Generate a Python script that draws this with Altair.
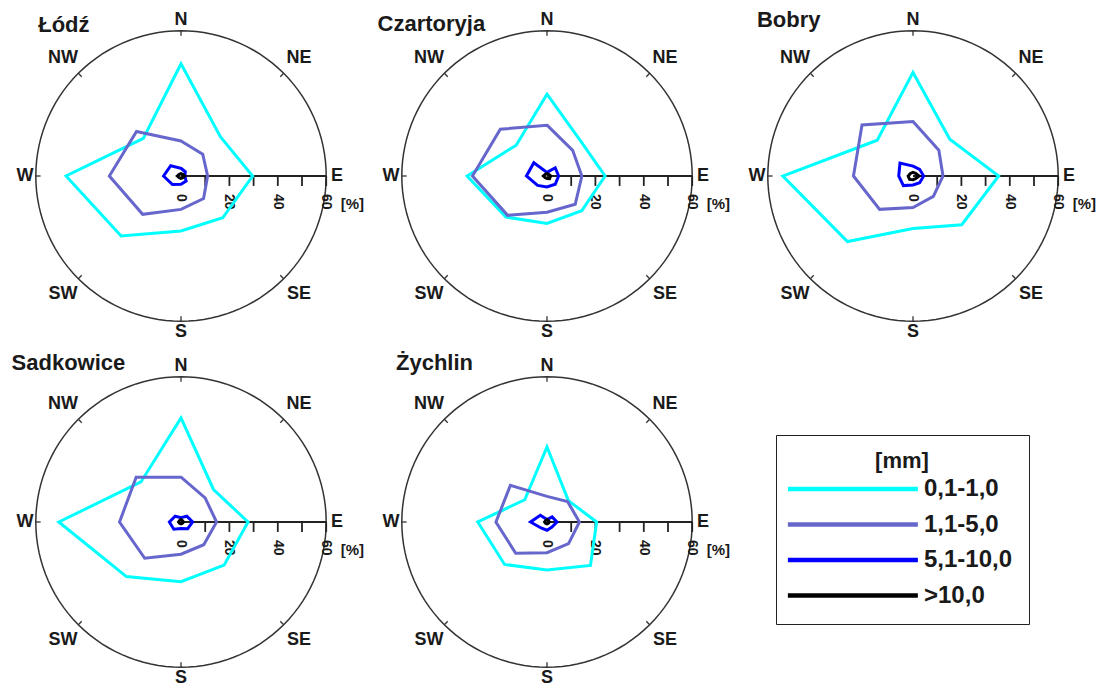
import altair as alt
import pandas as pd

# ---------------- data ----------------
directions = ["N", "NE", "E", "SE", "S", "SW", "W", "NW"]
bearings = [0, 45, 90, 135, 180, 225, 270, 315]
classes = ["0,1-1,0", "1,1-5,0", "5,1-10,0", ">10,0"]
class_colors = ["#00FFFF", "#6666CC", "#0000FF", "#000000"]
stations = ["Łódź", "Czartoryja", "Bobry", "Sadkowice", "Żychlin"]

# values [%] in order N, NE, E, SE, S, SW, W, NW
lodz_01_10 = [46.4, 23.0, 29.6, 24.4, 22.7, 35.0, 47.5, 22.0]
lodz_11_50 = [14.5, 12.7, 11.0, 13.2, 13.8, 22.4, 29.6, 26.0]
lodz_51_100 = [3.2, 2.5, 1.6, 3.0, 3.4, 5.0, 7.2, 6.0]
lodz_gt10 = [1.0, 1.0, 1.5, 1.0, 1.0, 1.0, 1.5, 1.0]

czart_01_10 = [33.8, 20.0, 24.0, 20.3, 19.6, 24.0, 33.0, 18.0]
czart_11_50 = [21.0, 15.0, 14.4, 16.5, 15.0, 23.0, 30.8, 27.3]
czart_51_100 = [1.5, 4.8, 4.8, 4.8, 4.5, 5.5, 8.5, 7.7]
czart_gt10 = [1.0, 1.0, 1.5, 1.5, 1.0, 1.0, 1.5, 1.0]

bobry_01_10 = [42.8, 21.5, 35.4, 28.5, 21.7, 38.3, 53.8, 20.9]
bobry_11_50 = [22.5, 15.1, 12.4, 11.9, 13.0, 19.5, 24.6, 29.8]
bobry_51_100 = [4.1, 3.9, 4.4, 3.9, 3.7, 5.6, 5.9, 7.6]
bobry_gt10 = [1.5, 1.5, 2.5, 1.5, 1.5, 2.0, 2.0, 1.5]

sadk_01_10 = [43.0, 19.0, 27.7, 25.2, 24.7, 31.9, 50.5, 23.4]
sadk_11_50 = [18.5, 14.1, 14.7, 13.3, 13.3, 21.2, 25.4, 26.2]
sadk_51_100 = [1.8, 3.4, 4.8, 3.9, 2.7, 4.2, 4.8, 3.4]
sadk_gt10 = [1.0, 0.8, 1.0, 0.8, 0.8, 0.8, 1.0, 0.8]

zych_01_10 = [31.0, 12.5, 20.5, 25.4, 19.8, 24.8, 28.6, 13.0]
zych_11_50 = [10.6, 12.0, 13.4, 12.6, 12.7, 18.3, 21.1, 21.4]
zych_51_100 = [1.0, 3.0, 4.1, 2.9, 3.4, 3.5, 6.8, 3.9]
zych_gt10 = [1.0, 0.8, 1.0, 0.8, 0.8, 0.8, 1.0, 0.8]

radial_ticks = [0, 10, 20, 30, 40, 50, 60]
RMAX = 60

series = {
    "Łódź": [lodz_01_10, lodz_11_50, lodz_51_100, lodz_gt10],
    "Czartoryja": [czart_01_10, czart_11_50, czart_51_100, czart_gt10],
    "Bobry": [bobry_01_10, bobry_11_50, bobry_51_100, bobry_gt10],
    "Sadkowice": [sadk_01_10, sadk_11_50, sadk_51_100, sadk_gt10],
    "Żychlin": [zych_01_10, zych_11_50, zych_51_100, zych_gt10],
}

rows = []
for st in stations:
    for cls, vals in zip(classes, series[st]):
        for i, (d, b, v) in enumerate(zip(directions, bearings, vals)):
            rows.append({"station": st, "cls": cls, "dir": d, "bearing": b, "idx": i, "value": v})
df = pd.DataFrame(rows)
dir_df = pd.DataFrame({"dir": directions, "bearing": bearings})
tick_df = pd.DataFrame({"t": radial_ticks})

# ---------------- layout / style ----------------
FONT = "Liberation Sans"
INK = "#1a1a1a"
S = 2.42            # pixels per percent
W = 340
XD = W / S / 2
# title placement (percent units, relative to the rose centre)
title_pos = {
    "Łódź": (-59.0, 62.4),
    "Czartoryja": (-70.0, 63.0),
    "Bobry": (-64.5, 64.6),
    "Sadkowice": (-70.0, 65.5),
    "Żychlin": (-62.4, 65.5),
}

legend = alt.Legend(
    orient="none", legendX=765, legendY=427,
    title="[mm]", titleFont=FONT, titleFontSize=22, titleFontWeight="bold",
    titleColor=INK, titleAnchor="middle", titlePadding=4,
    labelFont=FONT, labelFontSize=24, labelFontWeight="bold", labelColor=INK,
    labelOffset=116,
    symbolType="M-1,0H15", symbolSize=264, symbolStrokeWidth=4.5, symbolOffset=-8,
    rowPadding=11.5, padding=16, strokeColor="#222222", fillColor="white",
)


def panel(name, top_px, bottom_px):
    height = top_px + bottom_px
    xs = alt.Scale(domain=[-XD, XD], nice=False, zero=False)
    ys = alt.Scale(domain=[-bottom_px / S, top_px / S], nice=False, zero=False)

    def X(f):
        return alt.X(f, type="quantitative", scale=xs, axis=None)

    def Y(f):
        return alt.Y(f, type="quantitative", scale=ys, axis=None)

    ring = alt.Chart(alt.sequence(0, 361, 3, as_="a")).transform_calculate(
        x=f"{RMAX}*sin(datum.a*PI/180)", y=f"{RMAX}*cos(datum.a*PI/180)"
    ).mark_line(color="#333333", strokeWidth=1.5).encode(x=X("x"), y=Y("y"), order="a:Q")

    dticks = alt.Chart(dir_df).transform_calculate(
        x=f"{RMAX}*sin(datum.bearing*PI/180)", y=f"{RMAX}*cos(datum.bearing*PI/180)",
        x2=f"{RMAX - 2}*sin(datum.bearing*PI/180)", y2=f"{RMAX - 2}*cos(datum.bearing*PI/180)",
    ).mark_rule(color="#333333", strokeWidth=1.3).encode(
        x=X("x"), y=Y("y"), x2="x2:Q", y2="y2:Q")

    dlabels = alt.Chart(dir_df).transform_calculate(
        r="datum.bearing % 90 == 0 ? 64.5 : 69",
        x="datum.r*sin(datum.bearing*PI/180)", y="datum.r*cos(datum.bearing*PI/180)",
    ).mark_text(font=FONT, fontSize=18, fontWeight="bold", color=INK).encode(
        x=X("x"), y=Y("y"), text="dir:N")

    axis_line = alt.Chart(tick_df).transform_aggregate(
        lo="min(t)", hi="max(t)").transform_calculate(y="0").mark_rule(
        color="#222222", strokeWidth=2).encode(x=X("lo"), x2="hi:Q", y=Y("y"))

    tick_rules = alt.Chart(tick_df).transform_filter("datum.t > 0").transform_calculate(
        y="0", y2="-4.1").mark_rule(color="#222222", strokeWidth=1.8).encode(
        x=X("t"), y=Y("y"), y2="y2:Q")

    tick_text = alt.Chart(tick_df).transform_filter("datum.t % 20 == 0").transform_calculate(
        y="-7.4").mark_text(angle=90, align="left", baseline="middle", font=FONT,
                            fontSize=14, fontWeight="bold", color=INK).encode(
        x=X("t"), y=Y("y"), text=alt.Text("t:Q", format="d"))

    pct = alt.Chart(pd.DataFrame({"u": ["[%]"]})).transform_calculate(
        x="66", y="-11.6").mark_text(align="left", baseline="middle", font=FONT,
                                      fontSize=15, fontWeight="bold", color=INK).encode(
        x=X("x"), y=Y("y"), text="u:N")

    tx, ty = title_pos[name]
    title = alt.Chart(pd.DataFrame({"station": [name]})).transform_calculate(
        x=str(tx), y=str(ty)).mark_text(align="left", baseline="middle", font=FONT,
                                        fontSize=22, fontWeight="bold", color=INK).encode(
        x=X("x"), y=Y("y"), text="station:N")

    lines = alt.Chart(df).transform_filter(alt.datum.station == name).transform_calculate(
        x="datum.value*sin(datum.bearing*PI/180)", y="datum.value*cos(datum.bearing*PI/180)"
    ).mark_line(strokeWidth=3, interpolate="linear-closed").encode(
        x=X("x"), y=Y("y"), order="idx:Q",
        color=alt.Color("cls:N", scale=alt.Scale(domain=classes, range=class_colors),
                        legend=legend),
    )

    return alt.layer(ring, dticks, dlabels, axis_line, tick_rules, tick_text, pct,
                     lines, title).properties(width=W, height=height)


row1 = alt.hconcat(*[panel(s, 168, 168) for s in stations[:3]], spacing=26, bounds="flush")
row1 = row1.resolve_scale(color="shared").resolve_legend(color="shared")
row2 = alt.hconcat(*[panel(s, 178, 160) for s in stations[3:]], spacing=26, bounds="flush")
row2 = row2.resolve_scale(color="shared").resolve_legend(color="shared")

chart = alt.vconcat(row1, row2, spacing=0, bounds="full").resolve_scale(
    x="independent", y="independent", color="shared"
).resolve_legend(color="shared").properties(
    padding={"left": 3, "top": 0, "right": 0, "bottom": 0}
).configure_view(stroke=None)

chart.save("out.html", embed_options={"renderer": "svg", "actions": False})
